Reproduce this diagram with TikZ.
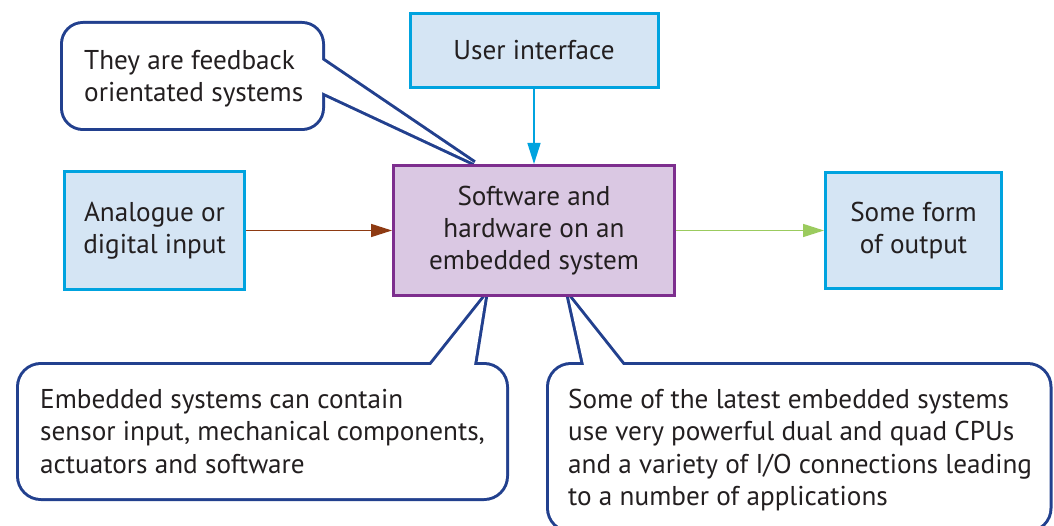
\documentclass[tikz,border=0pt]{standalone}
\usepackage{fontspec}
\setmainfont{PT Sans}
\usetikzlibrary{arrows.meta}
\definecolor{boxcyan}{HTML}{00A3DF}
\definecolor{boxfill}{HTML}{D5E5F4}
\definecolor{purpleedge}{HTML}{7D2E8E}
\definecolor{purplefill}{HTML}{DAC8E3}
\definecolor{navy}{HTML}{22408E}
\definecolor{txt}{HTML}{231F20}
\definecolor{brownarrow}{HTML}{8E3A12}
\definecolor{greenarrow}{HTML}{9BCB5E}
\begin{document}
\begin{tikzpicture}[x=1pt,y=-1pt,
  every node/.style={text=txt, font=\fontsize{27.2}{32.3}\selectfont},
  bluebox/.style={draw=boxcyan, fill=boxfill, line width=3pt, align=center, inner sep=0pt},
  midbox/.style={draw=purpleedge, fill=purplefill, line width=3pt, align=center, inner sep=0pt},
  calloutedge/.style={draw=navy, line width=6pt, line join=miter},
  callouttext/.style={align=left, anchor=base west, inner sep=0pt},
  conn/.style={line width=1.5pt, -{Triangle[length=21pt,width=13pt]}}
]
\useasboundingbox (0,0) rectangle (1054,526);
\fill[white] (0,0) rectangle (1054,526);
% ---- callout shapes (union outline) ----
\path[calloutedge, rounded corners=20pt] (63,24) rectangle (322,128);
\path[calloutedge] (302,46.4) -- (474,163) -- (302,82.7) -- cycle;
\path[calloutedge, rounded corners=22pt] (19,365) rectangle (506,498);
\path[calloutedge] (415.1,385) -- (485,297) -- (470.8,385) -- cycle;
\path[calloutedge, rounded corners=22pt] (549,365) rectangle (1049.5,530);
\path[calloutedge] (588.4,385) -- (569,297) -- (638.9,385) -- cycle;
\fill[white, rounded corners=20pt] (63,24) rectangle (322,128);
\fill[white] (302,46.4) -- (474,163) -- (302,82.7) -- cycle;
\fill[white, rounded corners=22pt] (19,365) rectangle (506,498);
\fill[white] (415.1,385) -- (485,297) -- (470.8,385) -- cycle;
\fill[white, rounded corners=22pt] (549,365) rectangle (1049.5,530);
\fill[white] (588.4,385) -- (569,297) -- (638.9,385) -- cycle;
% ---- callout texts (anchored at the baseline of their last line) ----
\node[callouttext] (t1) at (84,101.5) {They are feedback\\orientated systems};
\node[callouttext] (t2) at (40,473) {Embedded systems can contain\\sensor input, mechanical components,\\actuators and software};
\node[callouttext] (t3) at (568,505.5) {Some of the latest embedded systems\\use very powerful dual and quad CPUs\\and a variety of I/O connections leading\\to a number of applications};
% ---- boxes ----
\node[bluebox, minimum width=248pt, minimum height=74pt] (ui) at (534,50.5) {User interface};
\node[bluebox, minimum width=180pt, minimum height=118pt] (ana) at (154.5,230.5) {Analogue or\\digital input};
\node[midbox, minimum width=281pt, minimum height=130pt] (mid) at (534,230.5) {Software and\\hardware on an\\embedded system};
\node[bluebox, minimum width=176pt, minimum height=116pt] (out) at (913.5,230.5) {Some form\\of output};
% ---- connectors ----
\draw[conn, boxcyan] (ui) -- (mid);
\draw[conn, brownarrow] (ana) -- (mid);
\draw[conn, greenarrow] (mid) -- (out);
\end{tikzpicture}
\end{document}
